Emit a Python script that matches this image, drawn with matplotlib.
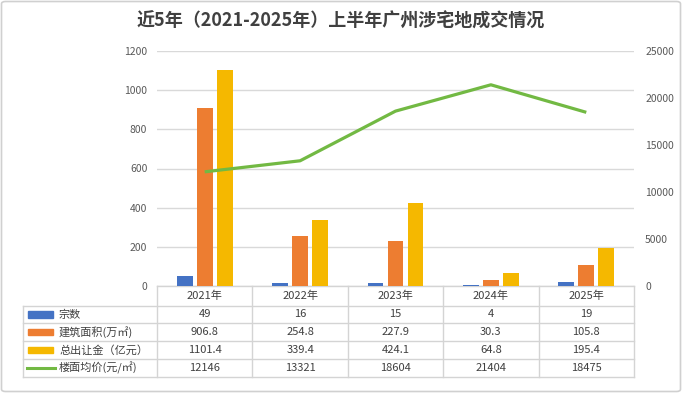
import matplotlib
matplotlib.use("Agg")
import matplotlib.pyplot as plt
from matplotlib.patches import FancyBboxPatch, Rectangle
from matplotlib.lines import Line2D
import matplotlib.transforms as mtransforms

plt.rcParams['font.family'] = ['Noto Sans CJK SC', 'DejaVu Sans']

years = ['2021年', '2022年', '2023年', '2024年', '2025年']
deals = [49, 16, 15, 4, 19]
area = [906.8, 254.8, 227.9, 30.3, 105.8]
money = [1101.4, 339.4, 424.1, 64.8, 195.4]
price = [12146, 13321, 18604, 21404, 18475]

names = ['宗数', '建筑面积(万㎡)', '总出让金（亿元）', '楼面均价(元/㎡)']
colors = ['#4472C4', '#ED7D31', '#F5B800', '#72B943']
table_text = [[str(v) for v in deals], [str(v) for v in area],
              [str(v) for v in money], [str(v) for v in price]]

W, H = 682, 393
fig = plt.figure(figsize=(W / 100, H / 100), dpi=100)

# outer frame
fig.patches.append(FancyBboxPatch((1.5 / W, 1.5 / H), (W - 3) / W, (H - 3) / H,
                                  boxstyle="round,pad=0,rounding_size=0.006",
                                  transform=fig.transFigure, fill=False,
                                  edgecolor='#d0d0d0', linewidth=1.2))

left, right, top, bottom = 157, 634, 51, 286
ax = fig.add_axes([left / W, (H - bottom) / H, (right - left) / W, (bottom - top) / H])
ax2 = ax.twinx()

x = list(range(len(years)))
bw = 0.165
off = 0.21
ax.bar([i - off for i in x], deals, bw, color=colors[0], zorder=3)
ax.bar(x, area, bw, color=colors[1], zorder=3)
ax.bar([i + off for i in x], money, bw, color=colors[2], zorder=3)
ax2.plot(x, price, color=colors[3], linewidth=2.3, solid_capstyle='butt', zorder=4)

ax.set_xlim(-0.5, 4.5)
ax.set_ylim(0, 1200)
ax.set_yticks(range(0, 1201, 200))
ax2.set_ylim(0, 25000)
ax2.set_yticks(range(0, 25001, 5000))
ax.set_xticks([])
ax.grid(axis='y', color='#d9d9d9', linewidth=1, zorder=0)
for a in (ax, ax2):
    for s in a.spines.values():
        s.set_visible(False)
    a.tick_params(axis='y', length=0, labelsize=7.5, colors='#595959')
ax.tick_params(axis='y', pad=7)
ax2.tick_params(axis='y', pad=8)
ax.set_zorder(1)
ax2.set_zorder(2)
ax2.patch.set_visible(False)

# data table under the axis
def fy(p):
    return (bottom - p) / (bottom - top)

def fx(p):
    return (p - left) / (right - left)

rows = [286, 305.5, 323.3, 341.2, 359, 376.5]
tab_left = 23
lc = '#d4d4d4'
for j, r in enumerate(rows):
    x0 = 0 if j == 0 else fx(tab_left)
    ax.add_line(Line2D([x0, 1], [fy(r), fy(r)], transform=ax.transAxes,
                       color=lc, linewidth=1, clip_on=False))
for k in range(len(years) + 1):
    ax.add_line(Line2D([k / len(years)] * 2, [fy(rows[0]), fy(rows[-1])],
                       transform=ax.transAxes, color=lc, linewidth=1, clip_on=False))
ax.add_line(Line2D([fx(tab_left)] * 2, [fy(rows[1]), fy(rows[-1])],
                   transform=ax.transAxes, color=lc, linewidth=1, clip_on=False))

blend = mtransforms.blended_transform_factory(ax.transData, ax.transAxes)
txt_kw = dict(fontsize=8, color='#404040', ha='center', va='center', clip_on=False)
for i, y in enumerate(years):
    ax.text(i, fy((rows[0] + rows[1]) / 2), y, transform=blend, **txt_kw)
for j in range(len(names)):
    yc = fy((rows[j + 1] + rows[j + 2]) / 2)
    for i in range(len(years)):
        ax.text(i, yc, table_text[j][i], transform=blend, **txt_kw)
    if j < 3:
        ax.add_patch(Rectangle((fx(28), yc - 3.2 / (bottom - top)), fx(53) - fx(28),
                               6.4 / (bottom - top), transform=ax.transAxes,
                               color=colors[j], clip_on=False))
    else:
        ax.add_line(Line2D([fx(27), fx(55)], [yc, yc], transform=ax.transAxes,
                           color=colors[j], linewidth=2.2, clip_on=False))
    ax.text(fx(59), yc, names[j], transform=ax.transAxes, fontsize=8,
            color='#404040', ha='left', va='center', clip_on=False)

fig.text(0.5, 1 - 21 / H, '近5年（2021-2025年）上半年广州涉宅地成交情况',
         ha='center', va='center', fontsize=13, fontweight='bold', color='#404040')

fig.savefig('out.png', dpi=100)
